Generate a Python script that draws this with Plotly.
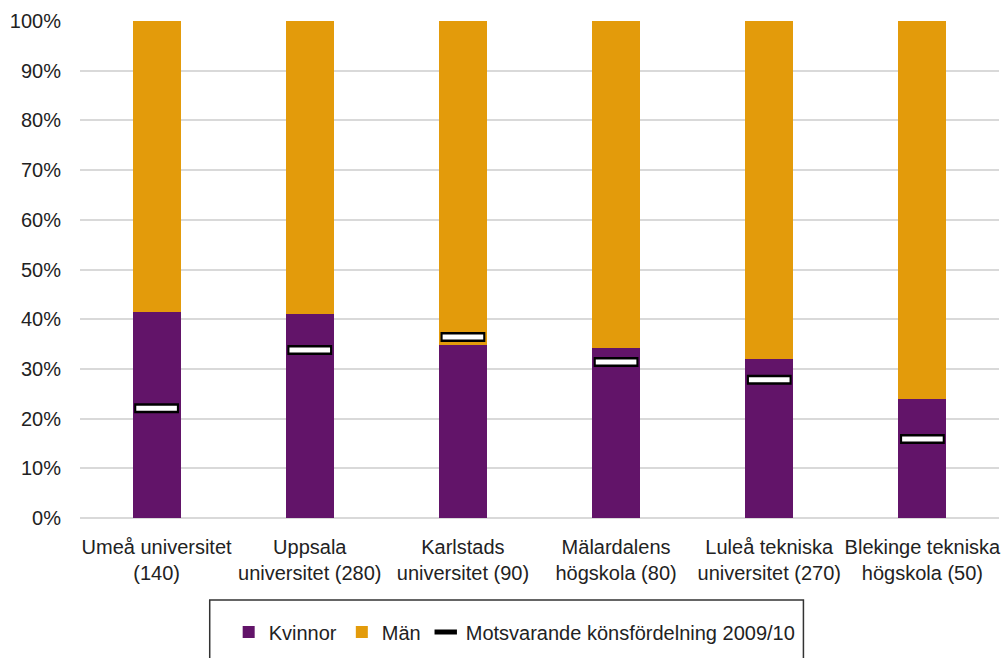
import plotly.graph_objects as go

categories = ["Umeå universitet<br>(140)", "Uppsala<br>universitet (280)", "Karlstads<br>universitet (90)",
              "Mälardalens<br>högskola (80)", "Luleå tekniska<br>universitet (270)", "Blekinge tekniska<br>högskola (50)"]
kvinnor = [41.4, 41.0, 34.8, 34.2, 32.0, 23.9]
man = [100 - v for v in kvinnor]
ref_2009 = [22.1, 33.8, 36.4, 31.4, 27.8, 15.9]
ytick_vals = [0, 10, 20, 30, 40, 50, 60, 70, 80, 90, 100]
ytick_text = [f"{v}%" for v in ytick_vals]

PURPLE = "#621469"
ORANGE = "#E39B0B"
FONT = "Liberation Sans, Arial, sans-serif"

fig = go.Figure()
fig.add_trace(go.Bar(x=categories, y=kvinnor, name="Kvinnor", marker_color=PURPLE,
                     marker_line_width=0))
fig.add_trace(go.Bar(x=categories, y=man, name="Män", marker_color=ORANGE,
                     marker_line_width=0))
fig.add_trace(go.Scatter(x=categories, y=ref_2009, mode="markers", name="Motsvarande könsfördelning 2009/10",
                         marker=dict(symbol="line-ew", size=32, line=dict(color="black", width=10)),
                         showlegend=True))
fig.add_trace(go.Scatter(x=categories, y=ref_2009, mode="markers", showlegend=False, hoverinfo="skip",
                         marker=dict(symbol="line-ew", size=29, line=dict(color="white", width=5)))) 

fig.update_layout(
    barmode="stack",
    bargap=0.687,
    width=1002, height=658,
    margin=dict(l=80, r=1, t=21, b=140),
    plot_bgcolor="white", paper_bgcolor="white",
    font=dict(family=FONT, size=20, color="#222222"),
    xaxis=dict(showgrid=False, showline=False, ticks="", tickfont=dict(size=20), ticklabelstandoff=15),
    yaxis=dict(range=[0, 100], tickvals=ytick_vals, ticktext=ytick_text, showgrid=True,
               gridcolor="#D9D9D9", gridwidth=2, zeroline=True, zerolinecolor="#D9D9D9",
               zerolinewidth=2, ticks="", ticklabelstandoff=18, tickfont=dict(size=20)),
    legend=dict(orientation="h", x=(229 - 80) / 921, xanchor="left", y=-0.19, yanchor="top",
                font=dict(size=20), bgcolor="rgba(0,0,0,0)", traceorder="normal"),
    shapes=[dict(type="rect", xref="paper", yref="paper", x0=(210 - 80) / 921, x1=(805 - 80) / 921,
                 y0=(518 - 600) / 497, y1=(518 - 700) / 497, line=dict(color="#333333", width=1.5),
                 fillcolor="rgba(0,0,0,0)")],
)

fig.write_html("out.html", config={"displayModeBar": False},
               post_script="document.body.style.margin='0';document.body.style.padding='0';")
